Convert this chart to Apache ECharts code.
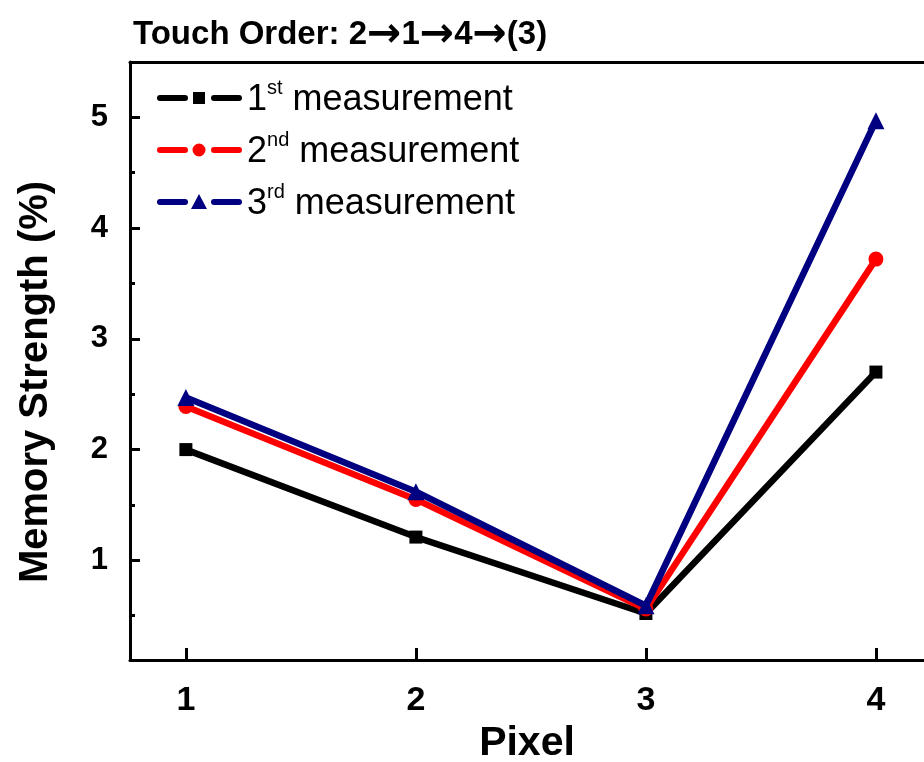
<!DOCTYPE html>
<html>
<head>
    <meta charset="utf-8">
    <title>Touch Order</title>
    <script src="https://cdn.jsdelivr.net/npm/echarts@6.0.0/dist/echarts.min.js"></script>
</head>
<body style="margin:0;">
    <div id="main" style="width: 924px;height:762px;"></div>
    <script type="text/javascript">
        // data
        var pixels = [1, 2, 3, 4];
        var first = [2.00, 1.21, 0.52, 2.70];
        var second = [2.39, 1.55, 0.56, 3.72];
        var third = [2.47, 1.62, 0.59, 4.97];
        var yMajor = [1, 2, 3, 4, 5];
        var yMinor = [0.5, 1.5, 2.5, 3.5, 4.5];

        function pairs(ys) {
            return pixels.map(function (x, i) { return [x, ys[i]]; });
        }

        var font = 'Liberation Sans, Arial, sans-serif';

        // legend icons: dash - marker - dash, drawn in an 85x16 box
        var corners = 'M0,0h0.01v0.01h-0.01Z M84.99,15.99h0.01v0.01h-0.01Z ';
        var dashes = 'M3,5H28A3,3 0 0 1 28,11H3A3,3 0 0 1 3,5Z M57,5H82A3,3 0 0 1 82,11H57A3,3 0 0 1 57,5Z ';
        var iconSquare = 'path://' + corners + dashes + 'M36,2H48V14H36Z';
        var iconCircle = 'path://' + corners + dashes + 'M35.5,8A6.5,6.5 0 1 1 48.5,8A6.5,6.5 0 1 1 35.5,8Z';
        var iconTriangle = 'path://' + corners + dashes + 'M42,0L50,15H34Z';

        var myChart = echarts.init(document.getElementById('main'));

        var option = {
            animation: false,
            textStyle: {fontFamily: font},
            title: {
                text: 'Touch Order: 2{a|→}1{a|→}4{a|→}(3)',
                left: 128,
                top: 11,
                textStyle: {
                    fontSize: 33, fontWeight: 'bold', color: '#000', fontFamily: font,
                    rich: {
                        a: {fontSize: 41, fontWeight: 'bold', color: '#000', fontFamily: 'DejaVu Sans', lineHeight: 38}
                    }
                }
            },
            legend: {
                orient: 'vertical',
                left: 152,
                top: 73,
                itemWidth: 85,
                itemHeight: 16,
                itemGap: 12,
                data: [
                    {name: '1st', icon: iconSquare},
                    {name: '2nd', icon: iconCircle},
                    {name: '3rd', icon: iconTriangle}
                ],
                formatter: function (name) {
                    return '{n|' + name.charAt(0) + '}{s|' + name.slice(1) + '}{t| measurement}';
                },
                textStyle: {
                    rich: {
                        n: {fontSize: 36, color: '#000', fontFamily: font, verticalAlign: 'bottom', lineHeight: 40},
                        s: {fontSize: 20, color: '#000', fontFamily: font, verticalAlign: 'top', lineHeight: 40, padding: [0, 0, 17, 0]},
                        t: {fontSize: 36, color: '#000', fontFamily: font, verticalAlign: 'bottom', lineHeight: 40}
                    }
                }
            },
            grid: {left: 130, right: 0, top: 62, bottom: 102, outerBoundsMode: 'none', containLabel: false},
            xAxis: [{
                type: 'value',
                min: 0.757,
                max: 4.209,
                name: 'Pixel',
                nameLocation: 'middle',
                nameGap: 62,
                nameTextStyle: {fontSize: 41, fontWeight: 'bold', color: '#000', fontFamily: font},
                splitLine: {show: false},
                axisLine: {show: true, lineStyle: {color: '#000', width: 3}},
                axisTick: {show: true, inside: true, length: 12, lineStyle: {color: '#000', width: 3}, customValues: pixels},
                axisLabel: {fontSize: 34, fontWeight: 'bold', color: '#000', margin: 24, customValues: pixels, fontFamily: font}
            }, {
                type: 'value',
                position: 'top',
                min: 0.757,
                max: 4.209,
                splitLine: {show: false},
                axisLine: {show: true, onZero: false, lineStyle: {color: '#000', width: 3}},
                axisTick: {show: false},
                axisLabel: {show: false}
            }],
            yAxis: [{
                type: 'value',
                min: 0.1,
                max: 5.5,
                name: 'Memory Strength (%)',
                nameLocation: 'middle',
                nameGap: 74,
                nameTextStyle: {fontSize: 40, fontWeight: 'bold', color: '#000', fontFamily: font, padding: [0, 42, 0, 0]},
                splitLine: {show: false},
                axisLine: {show: true, lineStyle: {color: '#000', width: 3}},
                axisTick: {show: true, inside: true, length: 10, lineStyle: {color: '#000', width: 3}, customValues: yMajor},
                axisLabel: {fontSize: 31, fontWeight: 'bold', color: '#000', margin: 22, customValues: yMajor, fontFamily: font}
            }, {
                type: 'value',
                position: 'left',
                min: 0.1,
                max: 5.5,
                splitLine: {show: false},
                axisLine: {show: false},
                axisTick: {show: true, inside: true, length: 5, lineStyle: {color: '#000', width: 3}, customValues: yMinor},
                axisLabel: {show: false}
            }],
            series: [{
                name: '1st',
                type: 'line',
                data: pairs(first),
                symbol: 'rect',
                symbolSize: 13,
                color: '#000000',
                lineStyle: {width: 6.5, color: '#000000'},
                z: 3
            }, {
                name: '2nd',
                type: 'line',
                data: pairs(second),
                symbol: 'circle',
                symbolSize: 15,
                color: '#ff0000',
                lineStyle: {width: 6.5, color: '#ff0000'},
                z: 4
            }, {
                name: '3rd',
                type: 'line',
                data: pairs(third),
                symbol: 'triangle',
                symbolSize: 17,
                color: '#000080',
                lineStyle: {width: 6.5, color: '#000080'},
                z: 5
            }]
        };
        myChart.setOption(option);
    </script>
</body>
</html>
